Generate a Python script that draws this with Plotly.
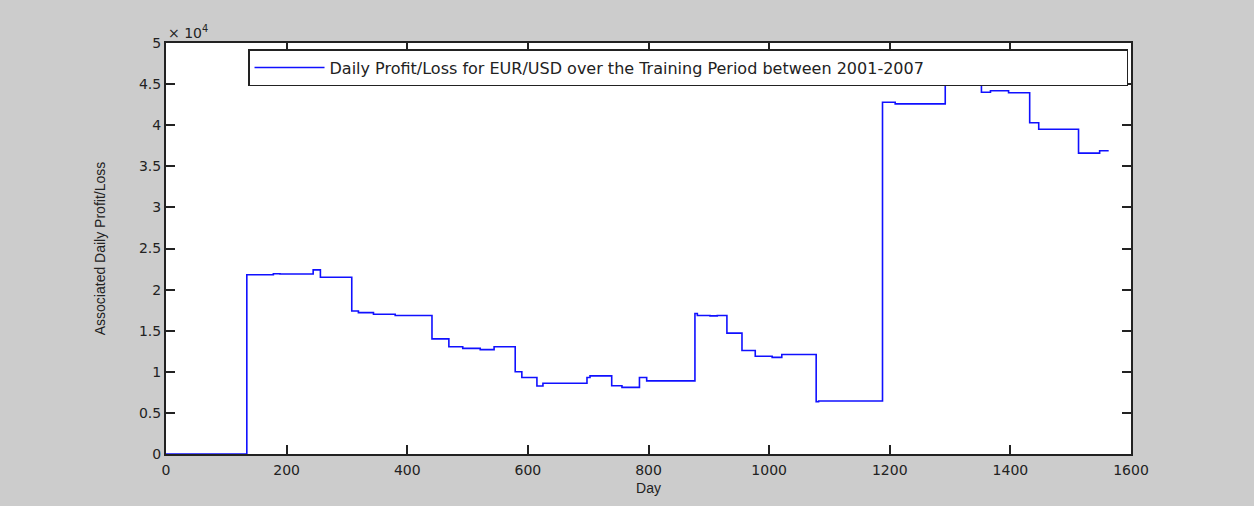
import plotly.graph_objects as go

# Cumulative daily profit/loss (step changes), EUR/USD training period
day = [0, 134, 178, 189, 244, 256, 308, 319, 344, 380,
       441, 469, 492, 521, 544, 579, 590, 615, 625, 698,
       703, 739, 756, 785, 797, 877, 881, 902, 914, 930,
       955, 977, 1005, 1021, 1078, 1082, 1188, 1209, 1292, 1342,
       1350, 1352, 1367, 1397, 1432, 1447, 1513, 1548, 1563]
pnl = [0, 21800, 21930, 21900, 22400, 21500, 17400, 17200, 17000, 16850,
       14000, 13050, 12850, 12700, 13050, 10000, 9300, 8270, 8600, 9300,
       9500, 8300, 8100, 9300, 8900, 17100, 16850, 16800, 16850, 14700,
       12600, 11900, 11750, 12100, 6350, 6450, 42800, 42600, 47600, 46300,
       45100, 44000, 44200, 43950, 40300, 39500, 36600, 36900, 36900]

x_ticks = [0, 200, 400, 600, 800, 1000, 1200, 1400, 1600]
y_ticks = [0, 5000, 10000, 15000, 20000, 25000, 30000, 35000, 40000, 45000, 50000]
y_tick_labels = ["0", "0.5", "1", "1.5", "2", "2.5", "3", "3.5", "4", "4.5", "5"]

series_name = "Daily Profit/Loss for EUR/USD over the Training Period between 2001-2007"

fig = go.Figure()
fig.add_trace(go.Scatter(
    x=day, y=pnl, mode="lines", line_shape="hv",
    line=dict(color="#1010ff", width=1.6),
    name=series_name, showlegend=True,
))

axis_common = dict(
    showgrid=False, zeroline=False, showline=True, mirror="ticks",
    linecolor="#222222", linewidth=2, ticks="inside", ticklen=9,
    tickwidth=1.5, tickcolor="#222222", layer="below traces",
    tickfont=dict(family="DejaVu Sans", size=14, color="#222222"),
)

fig.update_layout(
    width=1254, height=506,
    paper_bgcolor="#cccccc", plot_bgcolor="#ffffff",
    margin=dict(l=166, r=123, t=43, b=52),
    xaxis=dict(range=[0, 1600], tickvals=x_ticks, ticklabelstandoff=2,
               title=dict(text="Day", standoff=6,
                          font=dict(family="Liberation Sans", size=14, color="#222222")),
               **axis_common),
    yaxis=dict(range=[0, 50000], tickvals=y_ticks, ticktext=y_tick_labels,
               title=dict(text="Associated Daily Profit/Loss", standoff=30,
                          font=dict(family="Liberation Sans", size=14, color="#222222")),
               **axis_common),
    legend=dict(
        x=0.085, y=0.985, xanchor="left", yanchor="top",
        bgcolor="#ffffff", bordercolor="#222222", borderwidth=1.5,
        font=dict(family="DejaVu Sans", size=16, color="#222222"),
        itemwidth=70, orientation="h", entrywidth=792, entrywidthmode="pixels",
    ),
    annotations=[dict(
        text="× 10<sup>4</sup>", xref="paper", yref="paper",
        x=0, y=1, xanchor="left", yanchor="bottom", showarrow=False,
        font=dict(family="DejaVu Sans", size=14, color="#222222"),
    )],
)

fig.write_html("out.html")
